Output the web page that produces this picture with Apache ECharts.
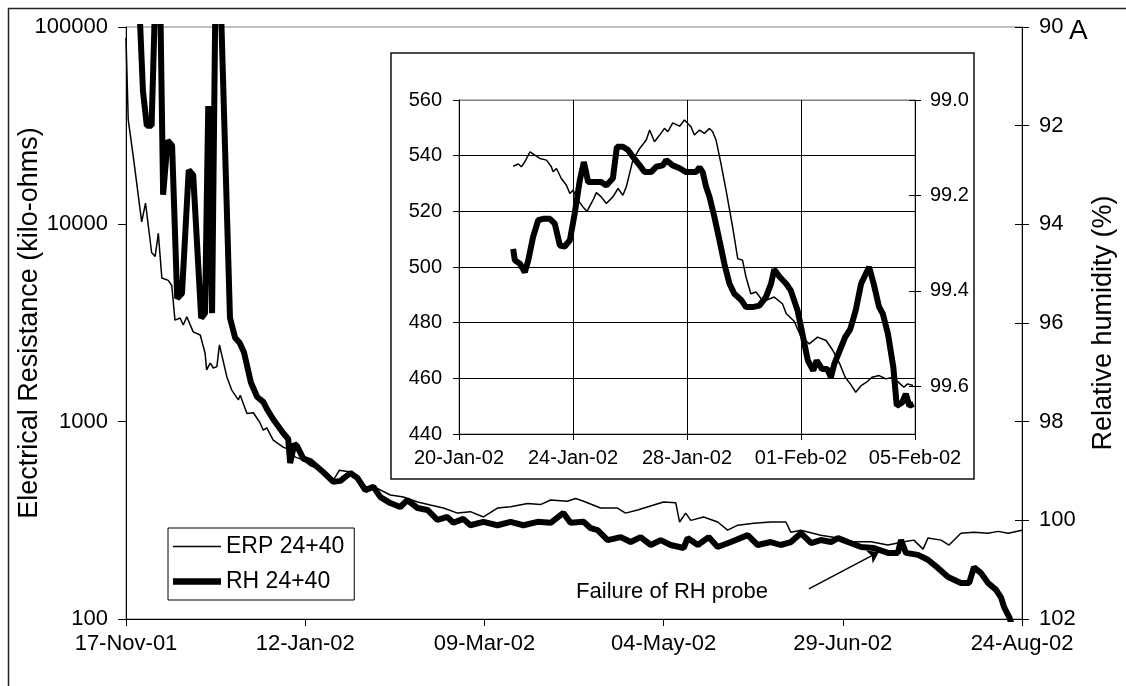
<!DOCTYPE html>
<html><head><meta charset="utf-8">
<script src="https://cdn.jsdelivr.net/npm/echarts@6/dist/echarts.min.js"></script>
<style>html,body{margin:0;padding:0;background:#fff}#c{width:1126px;height:686px}</style>
</head><body><div id="c"></div>
<script>
const FONT = '"Liberation Sans", Arial, Helvetica, sans-serif';

// ---- tick labels ----
const mainTickLabels = ['17-Nov-01','12-Jan-02','09-Mar-02','04-May-02','29-Jun-02','24-Aug-02'];
const insetTickLabels = ['20-Jan-02','24-Jan-02','28-Jan-02','01-Feb-02','05-Feb-02'];
const seriesNames = ['ERP 24+40', 'RH 24+40'];

// ---- main chart: days since 17-Nov-01 ----
const erpDay = [0,0.7,2.3,4.9,6.1,8.0,9.1,10.1,11.2,13.2,14.3,15.3,16.9,17.9,19.0,21.0,23.2,24.7,25.2,26.3,27.3,28.4,29.2,31.5,33.0,35.1,35.7,37.8,39.8,41.9,42.9,44.0,46.0,49.1,51.3,52.9,55.4,57.5,59.8,62.9,64.8,66.7,70.1,72.3,75.4,78.5,82.6,86.7,91.1,95.1,99.2,103.6,107.6,111.7,116.1,120.2,125.5,129.5,132.7,137.9,140.5,143.0,148.3,153.6,156.1,159.9,164.9,168.0,171.8,173.0,174.9,176.5,180.5,184.9,188.0,191.2,196.2,201.5,206.2,207.8,210.9,217.1,222.5,227.5,232.8,238.1,243.1,246.2,249.1,250.6,254.7,257.2,260.9,265.0,269.4,272.5,275.7,280];
const erpOhm = [88000,33800,21900,10300,12800,7200,6880,9000,5350,5200,4900,3270,3350,3090,3400,2850,2750,2230,1830,1980,1870,1900,2450,1690,1450,1290,1360,1100,1110,985,906,930,807,743,718,661,640,600,580,535,506,568,556,506,464,459,425,415,392,378,365,344,350,329,365,371,385,380,401,395,408,395,365,365,344,357,378,392,388,310,344,316,329,310,282,299,306,310,310,275,282,266,257,246,246,237,246,251,226,257,251,237,272,275,272,278,272,282];

const rhDay = [3.8,5.3,6.5,8.0,9.3,10.6,11.6,13.0,14.4,16.0,17.5,19.6,21.0,23.5,24.7,25.7,26.9,28.0,29.4,32.5,34.1,35.5,36.9,39.0,41.0,42.9,44.1,46.0,49.1,50.7,51.3,52.6,53.5,55.4,57.6,59.8,61.6,64.8,67.0,70.1,72.3,74.8,77.3,79.5,82.6,85.7,87.9,91.1,94.2,97.3,100.4,102.3,105.4,107.6,111.7,116.1,120.2,124.2,128.6,132.7,136.7,138.9,143.0,145.2,147.4,150.5,154.6,157.7,160.8,164.0,167.1,170.2,174.3,175.5,178.7,182.1,184.9,189.0,194.3,197.4,201.5,204.6,207.8,210.9,214.1,217.1,220.3,222.5,225.6,229.7,233.7,238.1,241.2,242.2,243.7,247.5,250.6,253.8,256.9,260.9,263.5,265.0,267.2,269.4,271.9,273.5,274.4,276.0,277.2];
const rhPct = [89.0,91.3,92.0,92.0,89.0,89.0,93.4,92.3,92.4,95.5,95.4,92.9,93.0,95.9,95.8,91.6,95.8,89.0,89.0,95.9,96.3,96.4,96.6,97.2,97.5,97.6,97.75,97.95,98.23,98.35,98.84,98.45,98.5,98.75,98.8,98.92,99.02,99.22,99.2,99.04,99.14,99.39,99.32,99.53,99.65,99.73,99.59,99.75,99.79,99.99,99.93,100.05,99.97,100.1,100.03,100.1,100.03,100.1,100.03,100.05,99.85,100.05,100.03,100.16,100.2,100.4,100.34,100.44,100.34,100.5,100.4,100.5,100.56,100.36,100.5,100.34,100.54,100.44,100.3,100.5,100.44,100.5,100.44,100.26,100.46,100.4,100.44,100.36,100.44,100.54,100.56,100.66,100.66,100.4,100.66,100.7,100.8,100.97,101.15,101.27,101.27,100.95,101.07,101.27,101.41,101.57,101.76,101.96,102.2];

// ---- inset: days since 20-Jan-02 ----
const insetErpT = [1.90,2.08,2.19,2.31,2.49,2.66,2.84,3.07,3.24,3.30,3.42,3.59,3.77,3.89,4.00,4.18,4.35,4.49,4.70,4.82,4.99,5.17,5.40,5.58,5.75,5.87,6.10,6.34,6.57,6.69,6.86,7.04,7.21,7.33,7.50,7.74,7.91,8.14,8.26,8.44,8.61,8.79,8.90,9.02,9.19,9.37,9.60,9.78,9.95,10.07,10.24,10.42,10.60,10.77,11.06,11.35,11.48,11.76,12.00,12.29,12.58,12.88,13.12,13.36,13.55,13.73,13.92,14.11,14.30,14.49,14.74,14.98,15.23,15.48,15.61,15.74,15.93];
const insetErpOhm = [536.2,537.0,536.0,537.8,541.4,540.2,539.0,538.4,536.0,534.2,535.4,531.8,529.4,526.4,527.6,524.0,521.6,520.0,524.0,526.7,525.2,522.8,525.2,528.2,525.8,528.8,538.4,542.6,545.6,549.2,545.0,547.4,549.8,548.6,551.8,550.6,552.8,550.4,547.4,549.2,548.0,549.8,548.6,545.6,537.2,527.6,514.4,503.0,502.4,496.4,490.4,491.0,488.6,488.0,489.2,486.8,483.3,480.5,475.0,472.4,474.8,473.6,470.0,465.2,460.4,458.0,455.0,457.4,458.6,460.4,461.0,459.8,460.4,458.0,456.8,458.0,457.4];

const insetRhT = [1.90,1.96,2.14,2.31,2.43,2.60,2.78,2.95,3.19,3.36,3.54,3.71,3.89,4.06,4.24,4.38,4.47,4.53,4.76,4.99,5.17,5.40,5.54,5.75,5.93,6.10,6.34,6.51,6.74,6.92,7.15,7.27,7.50,7.74,7.97,8.32,8.44,8.55,8.67,8.79,8.96,9.14,9.31,9.49,9.66,9.90,10.07,10.30,10.54,10.77,10.95,11.06,11.24,11.48,11.64,11.88,12.05,12.24,12.43,12.55,12.74,12.92,13.05,13.17,13.36,13.55,13.73,13.92,14.11,14.30,14.39,14.55,14.74,14.87,15.05,15.24,15.36,15.55,15.68,15.80,15.95];
const insetRhPct = [99.312,99.336,99.343,99.361,99.336,99.287,99.252,99.249,99.249,99.259,99.305,99.307,99.294,99.238,99.168,99.130,99.154,99.172,99.172,99.172,99.179,99.164,99.098,99.098,99.105,99.119,99.137,99.151,99.151,99.140,99.137,99.126,99.137,99.143,99.151,99.151,99.141,99.151,99.182,99.203,99.245,99.294,99.343,99.385,99.406,99.419,99.434,99.434,99.431,99.413,99.385,99.355,99.370,99.385,99.399,99.441,99.490,99.546,99.567,99.546,99.564,99.564,99.581,99.553,99.525,99.497,99.480,99.441,99.385,99.361,99.350,99.385,99.434,99.448,99.490,99.560,99.641,99.634,99.616,99.641,99.637];

// ---- annotation anchors (main chart data coordinates: day, RH %) ----
const annotText = 'Failure of RH probe';
const annotTextAt = [140.5, 101.45];
const annotArrowFrom = [213.4, 101.39];
const annotArrowTo = [235.3, 100.64];

const zip = (a, b) => a.map((v, i) => [v, b[i]]);

const chart = echarts.init(document.getElementById('c'), null, {renderer: 'canvas'});
const txt = (size) => ({color: '#000', fontSize: size, fontFamily: FONT});
const blackLine = {lineStyle: {color: '#000', width: 1}};
const decadeLabel = v => {
  const e = Math.log10(v);
  return Math.abs(e - Math.round(e)) < 1e-6 ? String(Math.round(v)) : '';
};

// legend icons: thin / thick horizontal bands inside a 48x12 box
const thinIcon = 'path://M0,0L0,0ZM0,12L0,12ZM0,5.25L48,5.25L48,6.75L0,6.75Z';
const thickIcon = 'path://M0,0L0,0ZM0,12L0,12ZM0,2.8L48,2.8L48,9.2L0,9.2Z';

const option = {
  animation: false,
  backgroundColor: '#fff',
  textStyle: {fontFamily: FONT},
  grid: [
    {left: 126, top: 27, width: 896, height: 592, show: true, borderColor: '#808080', borderWidth: 1,
     backgroundColor: 'transparent', containLabel: false, outerBoundsMode: 'none'},
    {left: 459, top: 100, width: 456, height: 334, show: true, borderColor: '#808080', borderWidth: 1,
     backgroundColor: 'transparent', containLabel: false, outerBoundsMode: 'none', z: 10}
  ],
  xAxis: [
    {type: 'value', gridIndex: 0, min: 0, max: 280, interval: 56,
     axisLine: {show: true, onZero: false, ...blackLine},
     axisTick: {show: true, inside: false, length: 7, ...blackLine},
     axisLabel: {...txt(22), margin: 14, formatter: v => mainTickLabels[Math.round(v / 56)] || ''},
     splitLine: {show: false}},
    {type: 'value', gridIndex: 1, min: 0, max: 16, interval: 4, z: 10,
     axisLine: {show: true, onZero: false, ...blackLine},
     axisTick: {show: true, inside: false, length: 6, ...blackLine},
     axisLabel: {...txt(20), margin: 14, formatter: v => insetTickLabels[Math.round(v / 4)] || ''},
     splitLine: {show: true, lineStyle: {color: '#000', width: 1}}}
  ],
  yAxis: [
    {type: 'log', logBase: 10, gridIndex: 0, position: 'left', min: 100, max: 100000,
     name: 'Electrical Resistance (kilo-ohms)', nameLocation: 'middle', nameGap: 83, nameRotate: 90,
     nameMoveOverlap: false,
     nameTextStyle: txt(27),
     axisLine: {show: true, onZero: false, ...blackLine},
     axisTick: {show: false},
     axisLabel: {...txt(22), margin: 18, interval: 0, formatter: decadeLabel},
     splitLine: {show: false}},
    {type: 'value', gridIndex: 0, position: 'right', min: 90, max: 102, interval: 2, inverse: true,
     name: 'Relative humidity (%)', nameLocation: 'middle', nameGap: 68, nameRotate: 90,
     nameMoveOverlap: false,
     nameTextStyle: txt(27),
     axisLine: {show: true, onZero: false, ...blackLine},
     axisTick: {show: true, inside: false, length: 7, ...blackLine},
     axisLabel: {...txt(22), margin: 17},
     splitLine: {show: false}},
    {type: 'value', gridIndex: 0, position: 'right', min: 90, max: 102, interval: 2, inverse: true,
     axisLine: {show: false, onZero: false}, axisLabel: {show: false},
     axisTick: {show: true, inside: true, length: 7, ...blackLine},
     splitLine: {show: false}},
    {type: 'value', gridIndex: 1, position: 'left', min: 440, max: 560, interval: 20, z: 10,
     axisLine: {show: true, onZero: false, ...blackLine},
     axisTick: {show: true, inside: false, length: 6, ...blackLine},
     axisLabel: {...txt(20), margin: 17},
     splitLine: {show: true, lineStyle: {color: ['#000','#000','#000','#000','#000','#000','#808080'], width: 1}}},
    {type: 'value', gridIndex: 1, position: 'right', min: 99.0, max: 99.7, interval: 0.2, inverse: true, z: 10,
     axisLine: {show: true, onZero: false, ...blackLine},
     axisTick: {show: true, inside: false, length: 6, ...blackLine},
     axisLabel: {...txt(20), margin: 15, showMaxLabel: false, formatter: v => v.toFixed(1)},
     splitLine: {show: false}},
    {type: 'value', gridIndex: 1, position: 'right', min: 99.0, max: 99.7, interval: 0.2, inverse: true, z: 10,
     axisLine: {show: false, onZero: false}, axisLabel: {show: false},
     axisTick: {show: true, inside: true, length: 6, ...blackLine},
     splitLine: {show: false}},
    // decade tick marks for the log axis (exponent scale 2..5)
    {type: 'value', gridIndex: 0, position: 'left', min: 2, max: 5, interval: 1,
     axisLine: {show: false, onZero: false}, axisLabel: {show: false},
     axisTick: {show: true, inside: false, length: 8, ...blackLine},
     splitLine: {show: false}}
  ],
  legend: {
    data: [
      {name: seriesNames[0], icon: thinIcon, itemStyle: {color: '#000', borderWidth: 0}},
      {name: seriesNames[1], icon: thickIcon, itemStyle: {color: '#000', borderWidth: 0}}
    ],
    orient: 'vertical', left: 168, top: 528,
    itemWidth: 48, itemHeight: 12, itemGap: 12, padding: [7, 10, 7, 5],
    borderColor: '#000', borderWidth: 1, backgroundColor: '#fff', borderRadius: 0,
    selectedMode: false,
    textStyle: txt(23)
  },
  graphic: [
    {type: 'rect', z: 0, silent: true, shape: {x: 8.5, y: 8.5, width: 1300, height: 900},
     style: {fill: 'none', stroke: '#222', lineWidth: 1.5}},
    {type: 'rect', z: 5, silent: true, shape: {x: 391, y: 53, width: 583, height: 426},
     style: {fill: '#fff', stroke: '#111', lineWidth: 1.5}},
    {type: 'text', z: 20, left: 1069, top: 17, silent: true,
     style: {text: 'A', fill: '#000', fontSize: 28, fontFamily: FONT}}
  ],
  series: [
    {name: seriesNames[0], type: 'line', xAxisIndex: 0, yAxisIndex: 0, data: zip(erpDay, erpOhm),
     symbol: 'none', showSymbol: false, z: 2, lineStyle: {color: '#000', width: 1.5}, itemStyle: {color: '#000'}},
    {name: seriesNames[1], type: 'line', xAxisIndex: 0, yAxisIndex: 1, data: zip(rhDay, rhPct),
     symbol: 'none', showSymbol: false, z: 3, lineStyle: {color: '#000', width: 6}, itemStyle: {color: '#000'},
     markLine: {silent: true, symbol: ['none', 'arrow'], symbolSize: 11, animation: false,
       label: {show: false}, lineStyle: {color: '#000', width: 1.5, type: 'solid'},
       emphasis: {disabled: true},
       data: [[{coord: annotArrowFrom}, {coord: annotArrowTo}]]},
     markPoint: {silent: true, animation: false,
       data: [{coord: annotTextAt, symbol: 'circle', symbolSize: 1, itemStyle: {color: 'rgba(0,0,0,0)'},
         label: {show: true, position: 'right', distance: 0, formatter: annotText, ...txt(22)}}]}},
    {name: seriesNames[0], type: 'line', xAxisIndex: 1, yAxisIndex: 3, data: zip(insetErpT, insetErpOhm),
     symbol: 'none', showSymbol: false, z: 12, lineStyle: {color: '#000', width: 1.5}, itemStyle: {color: '#000'}},
    {name: seriesNames[1], type: 'line', xAxisIndex: 1, yAxisIndex: 4, data: zip(insetRhT, insetRhPct),
     symbol: 'none', showSymbol: false, z: 13, lineStyle: {color: '#000', width: 6}, itemStyle: {color: '#000'}}
  ]
};
chart.setOption(option);
</script></body></html>
